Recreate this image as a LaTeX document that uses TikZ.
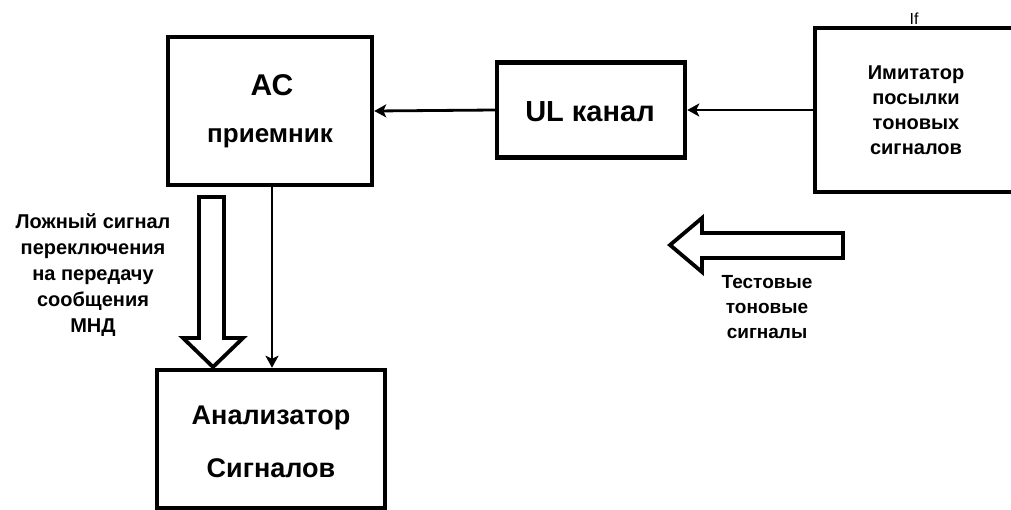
\documentclass[tikz,border=0pt]{standalone}
\usepackage{fontspec}
\setmainfont{Liberation Sans}
\usetikzlibrary{arrows.meta}

\tikzset{
  blockbox/.style={draw, line width=4.5pt, inner sep=0pt},
  boldtxt/.style={font=\bfseries, inner sep=0pt, align=center},
  sigline/.style={line width=2.8pt, -{Stealth[length=12pt,width=13pt,inset=3pt]}},
  hollow/.style={draw, line width=3.8pt, fill=white, line join=miter},
}

\begin{document}
\begin{tikzpicture}[x=1pt,y=-1pt]
  \clip (0,0) rectangle (1011,509);
  \fill[white] (0,0) rectangle (1011,509);

  % receiver block
  \node[blockbox, minimum width=204pt, minimum height=148pt] (ac) at (270,111) {};
  \node[boldtxt, font=\bfseries\fontsize{30}{32}\selectfont] (acA) at (272,85) {АС};
  \node[boldtxt, font=\bfseries\fontsize{26}{30}\selectfont] (acB) at (270,138) {приемник};

  % UL channel block
  \node[blockbox, minimum width=188pt, minimum height=95pt] (ul) at (591,110) {};
  \node[boldtxt, font=\bfseries\fontsize{29}{32}\selectfont] (ulT) at (590,112) {UL канал};

  % tone burst simulator (runs past the right edge)
  \node[blockbox, minimum width=260pt, minimum height=164pt] (im) at (945,110) {};
  \node[boldtxt, font=\bfseries\fontsize{20}{25}\selectfont] (imT) at (916,110)
    {Имитатор\\посылки\\тоновых\\сигналов};
  \node[inner sep=0pt, font=\fontsize{16}{18}\selectfont] (mark) at (914,19) {If};

  % signal analyser block
  \node[blockbox, minimum width=228pt, minimum height=138pt] (an) at (271,439) {};
  \node[boldtxt, font=\bfseries\fontsize{27}{30}\selectfont] (anA) at (271,418) {Анализатор};
  \node[boldtxt, font=\bfseries\fontsize{27}{30}\selectfont] (anB) at (271,468) {Сигналов};

  % signal path
  \draw[sigline] (im.west) -- (ul.east);
  \draw[sigline] (ul.west) -- (ac.east);
  \draw[sigline] ([xshift=2pt]ac.south) -- ([xshift=2pt]ac.south |- an.north);

  % hollow arrow: false switch-over signal
  \coordinate (fa1) at (199,197);
  \coordinate (fa2) at (224,197);
  \draw[hollow] (fa1) -- (fa2) -- (224,338) -- (243,338) -- (213,367)
     -- (183,338) -- (199,338) -- cycle;
  \node[boldtxt, font=\bfseries\fontsize{20}{26}\selectfont] (falseT) at (93,275)
    {Ложный сигнал\\переключения\\на передачу\\сообщения\\МНД};

  % hollow arrow: test tone signals
  \coordinate (ta1) at (843,233);
  \coordinate (ta2) at (843,258);
  \draw[hollow] (ta1) -- (702,233) -- (702,218) -- (670,245) -- (702,272)
     -- (702,258) -- (ta2) -- cycle;
  \node[boldtxt, font=\bfseries\fontsize{19}{25}\selectfont] (testT) at (767,307)
    {Тестовые\\тоновые\\сигналы};
\end{tikzpicture}
\end{document}
